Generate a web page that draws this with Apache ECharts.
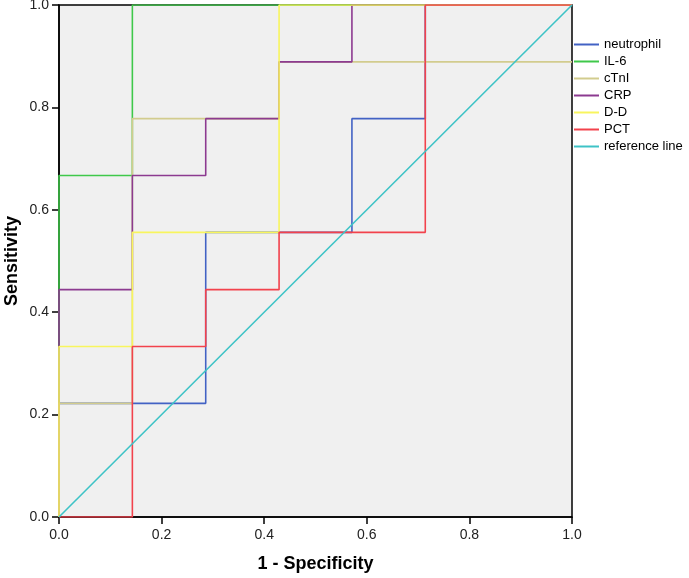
<!DOCTYPE html>
<html>
<head>
<meta charset="utf-8">
<script src="https://cdn.jsdelivr.net/npm/echarts@6/dist/echarts.min.js"></script>
<style>html,body{margin:0;padding:0;background:#fff;}#c{width:689px;height:578px;}</style>
</head>
<body>
<div id="c"></div>
<script>
// Series names
var seriesNames = ['neutrophil', 'IL-6', 'cTnI', 'CRP', 'D-D', 'PCT', 'reference line'];
// 1 - Specificity (x) and Sensitivity (y) vertices of each ROC step curve
var neutrophilX = [0, 0, 0.286, 0.286, 0.571, 0.571, 0.714, 0.714, 1];
var neutrophilY = [0, 0.222, 0.222, 0.556, 0.556, 0.778, 0.778, 1, 1];
var il6X = [0, 0, 0.143, 0.143, 1];
var il6Y = [0, 0.667, 0.667, 1, 1];
var ctniX = [0, 0, 0.143, 0.143, 0.429, 0.429, 1];
var ctniY = [0, 0.222, 0.222, 0.778, 0.778, 0.889, 0.889];
var crpX = [0, 0, 0.143, 0.143, 0.286, 0.286, 0.429, 0.429, 0.571, 0.571, 1];
var crpY = [0, 0.444, 0.444, 0.667, 0.667, 0.778, 0.778, 0.889, 0.889, 1, 1];
var ddX = [0, 0, 0.143, 0.143, 0.429, 0.429, 1];
var ddY = [0, 0.333, 0.333, 0.556, 0.556, 1, 1];
var pctX = [0, 0.143, 0.143, 0.286, 0.286, 0.429, 0.429, 0.714, 0.714, 1];
var pctY = [0, 0, 0.333, 0.333, 0.444, 0.444, 0.556, 0.556, 1, 1];
var refX = [0, 1];
var refY = [0, 1];
// Tick labels
var tickValues = [0, 0.2, 0.4, 0.6, 0.8, 1.0];

var colors = ['#4262c4', '#3fc84a', '#d2cc8e', '#8c3a90', '#f8f55e', '#f2424c', '#3ec3c6'];
var xs = [neutrophilX, il6X, ctniX, crpX, ddX, pctX, refX];
var ys = [neutrophilY, il6Y, ctniY, crpY, ddY, pctY, refY];

function pairs(a, b) { return a.map(function (v, i) { return [v, b[i]]; }); }

var series = seriesNames.map(function (n, i) {
  return {
    name: n, type: 'line', data: pairs(xs[i], ys[i]),
    showSymbol: false, symbol: 'none', animation: false,
    lineStyle: { color: colors[i], width: 1.6 },
    itemStyle: { color: colors[i] },
    z: 2 + i
  };
});

var axisCommon = {
  type: 'value', min: 0, max: 1, interval: 0.2,
  axisLine: { show: true, onZero: false, lineStyle: { color: '#000', width: 1.5 } },
  axisTick: { show: true, inside: false, length: 7, lineStyle: { color: '#000', width: 1.5 } },
  splitLine: { show: false },
  axisLabel: { color: '#222', fontSize: 14, fontFamily: 'Liberation Sans, Arial, sans-serif',
    formatter: function (v) { return v.toFixed(1); } },
  nameLocation: 'middle',
  nameMoveOverlap: false,
  nameTextStyle: { color: '#000', fontSize: 18, fontWeight: 'bold', fontFamily: 'Liberation Sans, Arial, sans-serif' }
};

var chart = echarts.init(document.getElementById('c'), null, { renderer: 'canvas' });
chart.setOption({
  backgroundColor: '#fff',
  animation: false,
  grid: { left: 59, right: 117, top: 5, bottom: 61, containLabel: false, outerBoundsMode: 'none',
    show: true, backgroundColor: '#f0f0f0', borderColor: '#000', borderWidth: 1.5 },
  xAxis: Object.assign({}, axisCommon, { name: '1 - Specificity', nameGap: 38,
    axisLabel: Object.assign({}, axisCommon.axisLabel, { margin: 11 }) }),
  yAxis: Object.assign({}, axisCommon, { name: 'Sensitivity', nameGap: 38,
    axisLabel: Object.assign({}, axisCommon.axisLabel, { margin: 10 }) }),
  legend: {
    orient: 'vertical', left: 574, top: 38, padding: 0,
    data: seriesNames.map(function (n, i) { return { name: n, icon: 'rect', itemStyle: { color: colors[i] } }; }),
    itemWidth: 25, itemHeight: 2, itemGap: 4,
    textStyle: { color: '#000', fontSize: 13, fontFamily: 'Liberation Sans, Arial, sans-serif' },
    selectedMode: false
  },
  series: series
});
</script>
</body>
</html>
